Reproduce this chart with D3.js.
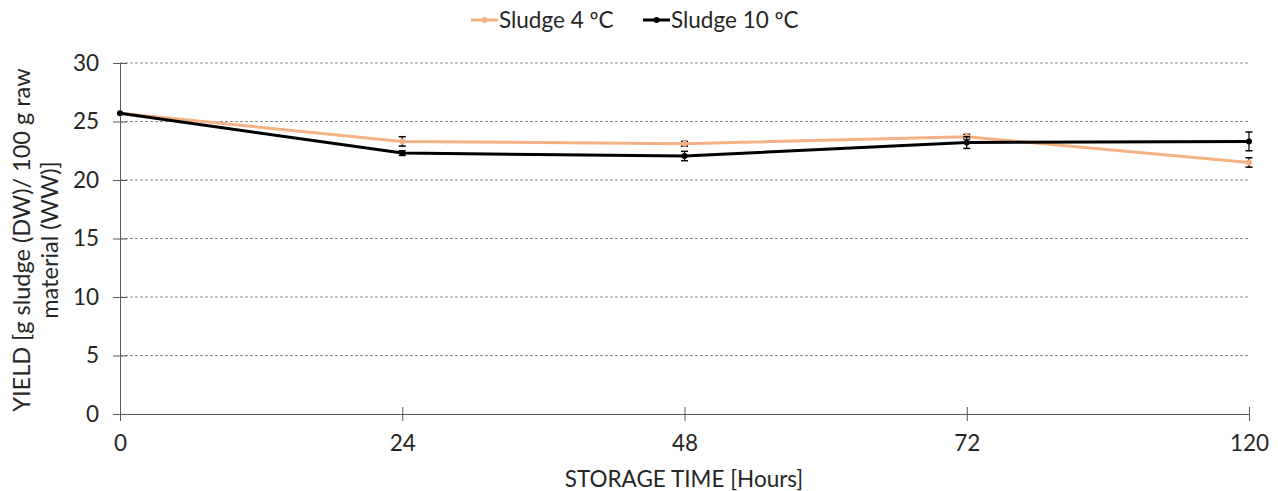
<!DOCTYPE html>
<html><head><meta charset="utf-8">
<script src="https://cdn.jsdelivr.net/npm/d3@7"></script>
<style>body{margin:0;background:#fff}svg{display:block}text{font-family:"Lato","Open Sans",sans-serif;fill:#262626}</style>
</head><body>
<svg id="c" width="1278" height="491"></svg>
<script>
const categories = ["0", "24", "48", "72", "120"];
const seriesNames = ["Sludge 4 ºC", "Sludge 10 ºC"];
const sludge4 = [25.7, 23.3, 23.1, 23.7, 21.5];
const sludge4Err = [0.05, 0.4, 0.2, 0.2, 0.4];
const sludge10 = [25.7, 22.3, 22.05, 23.2, 23.3];
const sludge10Err = [0.05, 0.2, 0.4, 0.5, 0.8];
const yTicks = [0, 5, 10, 15, 20, 25, 30];
const colors = ["#F4B183", "#000000"];
const FS = "22.5px";

const svg = d3.select("#c");
const x = d3.scalePoint().domain(categories).range([120, 1249]);
const y = d3.scaleLinear().domain([0, 30]).range([414, 63]);

svg.append("g").selectAll("line").data(yTicks.filter(d => d > 0)).join("line")
  .attr("x1", 120).attr("x2", 1249).attr("y1", d => y(d)).attr("y2", d => y(d))
  .attr("stroke", "#8c8c8c").attr("stroke-width", 1).attr("stroke-dasharray", "3,2");

const ya = svg.append("g").attr("transform", "translate(120,0)")
  .call(d3.axisLeft(y).tickValues(yTicks).tickSize(7).tickPadding(14));
ya.select(".domain").attr("stroke", "#595959");
ya.selectAll(".tick line").attr("stroke", "#595959").attr("x2", 7).attr("x1", -7);
ya.selectAll(".tick text").style("font-size", FS).attr("fill", "#262626");

const xa = svg.append("g").attr("transform", "translate(0,414)")
  .call(d3.axisBottom(x).tickSize(7).tickPadding(14).tickSizeOuter(0));
xa.select(".domain").attr("stroke", "#595959");
xa.selectAll(".tick line").attr("stroke", "#595959").attr("y1", -7).attr("y2", 7);
xa.selectAll(".tick text").style("font-size", FS).attr("fill", "#262626");

svg.append("text").attr("x", 684).attr("y", 487).attr("text-anchor", "middle")
  .style("font-size", FS).text("STORAGE TIME [Hours]");
const yt = svg.append("text").attr("transform", "translate(0,240) rotate(-90)")
  .attr("text-anchor", "middle").style("font-size", "23.5px");
yt.append("tspan").attr("x", 0).attr("y", 30).text("YIELD [g sludge (DW)/ 100 g raw");
yt.append("tspan").attr("x", 0).attr("y", 58).text("material (WW)]");

const line = d3.line().x((d, i) => x(categories[i])).y(d => y(d));
const series = [[sludge4, sludge4Err], [sludge10, sludge10Err]];
series.forEach(([vals, errs], s) => {
  svg.append("path").datum(vals).attr("d", line).attr("fill", "none")
    .attr("stroke", colors[s]).attr("stroke-width", 3).attr("stroke-linejoin", "round");
  const g = svg.append("g");
  vals.forEach((v, i) => {
    const cx = x(categories[i]);
    if (errs[i] > 0.06) {
      g.append("line").attr("x1", cx).attr("x2", cx).attr("y1", y(v + errs[i])).attr("y2", y(v - errs[i])).attr("stroke", "#000").attr("stroke-width", 1.2);
      [v + errs[i], v - errs[i]].forEach(e => g.append("line").attr("x1", cx - 3.5).attr("x2", cx + 3.5).attr("y1", y(e)).attr("y2", y(e)).attr("stroke", "#000").attr("stroke-width", 1.5));
    }
    g.append("circle").attr("cx", cx).attr("cy", y(v)).attr("r", 3).attr("fill", colors[s]);
  });
});

const leg = [{x: 471, tx: 499}, {x: 643, tx: 671}];
seriesNames.forEach((n, i) => {
  const L = leg[i];
  svg.append("line").attr("x1", L.x).attr("x2", L.x + 27).attr("y1", 20).attr("y2", 20)
    .attr("stroke", colors[i]).attr("stroke-width", 3);
  svg.append("circle").attr("cx", L.x + 13.5).attr("cy", 20).attr("r", 3).attr("fill", colors[i]);
  svg.append("text").attr("x", L.tx).attr("y", 28).style("font-size", FS).text(n);
});
</script>
</body></html>
